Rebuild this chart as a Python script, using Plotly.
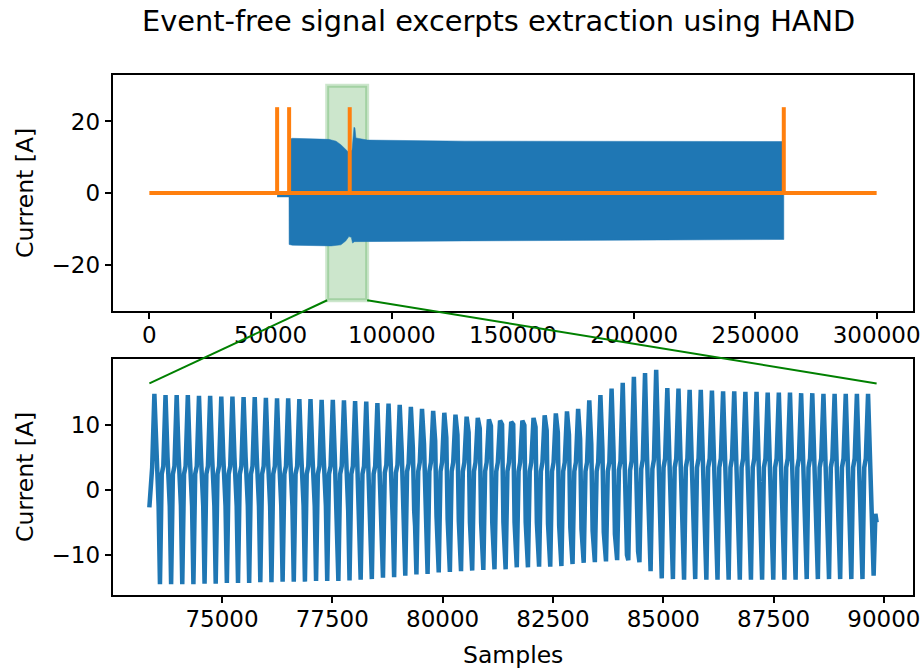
import plotly.graph_objects as go

# ------------------------------------------------------------------ data
TOP_X_END = 300000                      # last sample of the recording
EVENT_SAMPLES = [52700, 57650, 82650, 261700]   # HAND detected events
EVENT_HEIGHT = 24

# envelope of the (very dense) current signal in the full view
ENV_UPPER_X = [52700, 57600, 57650, 59000, 74000, 77000, 79000, 80800, 82200,
               83600, 84000, 84400, 84800, 85200, 90000, 130000, 261700]
ENV_UPPER = [0.0, 0.0, 15.0, 15.3, 15.0, 14.5, 13.5, 12.2, 11.4,
             12.0, 16.0, 18.4, 18.2, 15.4, 14.8, 14.5, 14.4]
ENV_LOWER_X = [52700, 57600, 57650, 59000, 75000, 79000, 81000, 82300, 83300,
               83800, 84600, 90000, 130000, 261700]
ENV_LOWER = [-1.1, -1.1, -14.4, -14.6, -14.8, -14.5, -13.4, -12.2, -12.4,
             -14.0, -13.6, -13.6, -13.4, -13.0]

# excerpt shown in the zoom
EXCERPT_START = 73355
EXCERPT_END = 89835
RECT_Y = [-30, 30]
CONNECT_Y = 16.3
FIRST_PEAK = 73468
PERIOD = 252.7

HEAD_PHASES = [-0.45, -0.2]
HEAD_VALS = [-2.7, 3.4]
CYCLE_PHASES = [0.0, 0.18, 0.3, 0.38, 0.5, 0.66, 0.8]
TAIL_PHASES = [0.66, 0.77]
TAIL_VALS = [-3.7, -5.0]

PEAK_VALS = [14.7, 14.5, 14.5, 14.5, 14.4, 14.4, 14.3, 14.3, 14.2, 14.2, 14.1, 14.0, 14.0,
             13.9, 13.9, 13.8, 13.8, 13.7, 13.6, 13.5, 13.3, 13.2, 13.0, 12.7, 12.4, 12.1,
             11.8, 11.5, 11.2, 11.0, 10.8, 10.6, 10.4, 10.6, 11.0, 11.4, 11.7, 12.0, 12.4,
             13.7, 14.5, 15.5, 16.4, 17.3, 17.9, 18.4, 15.6, 15.5, 15.3, 15.3, 15.2, 15.1,
             15.1, 15.0, 15.0, 14.9, 14.9, 14.9, 14.8, 14.8, 14.7, 14.7, 14.7, 14.7, 14.7]
HI_VALS = [5.0, 5.0, 5.0, 5.0, 5.0, 5.0, 5.0, 5.0, 5.0, 5.0, 5.0, 5.0, 5.0,
           5.0, 5.0, 5.0, 5.0, 5.0, 5.0, 5.0, 5.2, 5.5, 5.9, 6.4, 7.0, 7.5,
           8.0, 8.4, 8.8, 9.4, 9.8, 10.0, 10.0, 9.9, 9.6, 9.1, 8.8, 8.4, 7.8,
           7.0, 6.2, 5.6, 5.2, 5.0, 5.0, 4.5, 4.5, 4.5, 4.5, 4.5, 4.5, 4.5,
           4.5, 4.5, 4.5, 4.5, 4.5, 4.5, 4.5, 4.5, 4.5, 4.5, 4.5, 4.5, 4.5]
LO_A_VALS = [-1.0, -1.0, -1.0, -1.0, -1.0, -1.0, -1.0, -1.0, -1.0, -1.0, -1.0, -1.0, -1.0,
             -1.0, -1.0, -1.0, -1.2, -1.5, -1.8, -2.1, -2.4, -2.7, -3.0, -3.3, -3.6, -4.0,
             -4.5, -4.8, -5.0, -5.0, -5.0, -5.0, -5.0, -5.0, -5.0, -5.2, -5.5, -5.8, -6.0,
             -6.3, -6.5, -6.8, -7.0, -6.5, -4.5, -4.0, -3.8, -3.8, -3.8, -3.8, -3.8, -3.8,
             -3.8, -3.8, -3.8, -3.8, -3.8, -3.8, -3.8, -3.8, -3.8, -3.8, -3.8, -3.8, -3.8]
LO_B_VALS = [-2.5, -2.5, -2.5, -2.5, -2.5, -2.5, -2.5, -2.5, -2.5, -2.5, -2.5, -2.5, -2.5,
             -2.5, -2.5, -2.5, -2.8, -3.2, -3.6, -4.0, -4.4, -4.8, -5.2, -5.6, -6.0, -6.4,
             -7.0, -7.4, -7.8, -8.0, -8.2, -8.4, -8.5, -8.6, -8.8, -9.0, -9.2, -9.4, -9.6,
             -9.8, -10.0, -10.0, -10.0, -9.5, -7.5, -6.8, -6.6, -6.6, -6.6, -6.6, -6.6, -6.6,
             -6.6, -6.6, -6.6, -6.6, -6.6, -6.6, -6.6, -6.6, -6.6, -6.6, -6.6, -6.6, -6.6]
MIN_VALS = [-14.5, -14.5, -14.5, -14.5, -14.4, -14.4, -14.3, -14.3, -14.3, -14.2, -14.2, -14.1, -14.1,
            -14.1, -14.0, -14.0, -14.0, -13.9, -13.8, -13.7, -13.5, -13.4, -13.2, -13.0, -12.9, -12.7,
            -12.6, -12.5, -12.4, -12.3, -12.2, -12.2, -11.9, -11.9, -11.8, -11.8, -11.7, -11.4, -11.2,
            -11.1, -11.0, -10.8, -10.8, -11.1, -12.5, -13.6, -13.7, -13.8, -13.7, -13.8, -13.8, -13.8,
            -13.8, -13.8, -13.8, -13.8, -13.8, -13.8, -13.7, -13.7, -13.7, -13.7, -13.7, -13.7, -13.2]
RISE_A_VALS = [2.4, 2.4, 2.4, 2.4, 2.4, 2.4, 2.4, 2.4, 2.4, 2.4, 2.4, 2.4, 2.4,
               2.4, 2.4, 2.4, 2.4, 2.4, 2.4, 2.4, 2.6, 2.6, 2.8, 2.8, 2.8, 2.8,
               2.8, 2.8, 2.8, 2.8, 2.8, 2.8, 2.8, 2.8, 2.8, 2.8, 2.8, 2.8, 2.8,
               2.8, 2.8, 3.0, 3.0, 3.2, 3.2, 3.4, 3.4, 3.4, 3.4, 3.4, 3.4, 3.4,
               3.4, 3.4, 3.4, 3.4, 3.4, 3.4, 3.4, 3.4, 3.4, 3.4, 3.4, 3.4, 3.4]
RISE_B_VALS = [3.6, 3.6, 3.6, 3.6, 3.6, 3.6, 3.6, 3.6, 3.6, 3.6, 3.6, 3.6, 3.6,
               3.6, 3.6, 3.6, 3.6, 3.6, 3.6, 3.6, 3.8, 3.8, 4.0, 4.2, 4.2, 4.2,
               4.2, 4.2, 4.2, 4.2, 4.2, 4.2, 4.2, 4.2, 4.2, 4.2, 4.2, 4.2, 4.2,
               4.2, 4.2, 4.4, 4.4, 4.6, 4.6, 4.8, 4.8, 4.8, 4.8, 4.8, 4.8, 4.8,
               4.8, 4.8, 4.8, 4.8, 4.8, 4.8, 4.8, 4.8, 4.8, 4.8, 4.8, 4.8, 4.8]

TOP_XTICKS = [0, 50000, 100000, 150000, 200000, 250000, 300000]
TOP_YTICKS = [-20, 0, 20]
BOT_XTICKS = [75000, 77500, 80000, 82500, 85000, 87500, 90000]
BOT_YTICKS = [-10, 0, 10]

# ------------------------------------------------------------------ layout constants
W, H = 924, 670
X_DOM = [113 / W, 913 / W]
Y1_DOM = [1 - 311 / H, 1 - 75 / H]
Y2_DOM = [1 - 595 / H, 1 - 359 / H]
TOP_XR = [-0.05 * TOP_X_END, 1.05 * TOP_X_END]
TOP_YR = [RECT_Y[0] * 1.1, RECT_Y[1] * 1.1]
BLUE, ORANGE, GREEN = "#1f77b4", "#ff7f0e", "green"
FONT = "DejaVu Sans"

# ------------------------------------------------------------------ build series
wave_x, wave_y = [], []
for ph, v in zip(HEAD_PHASES, HEAD_VALS):
    wave_x.append(FIRST_PEAK + ph * PERIOD)
    wave_y.append(v)
n = len(PEAK_VALS)
for k in range(n):
    base = FIRST_PEAK + k * PERIOD
    vals = [PEAK_VALS[k], HI_VALS[k], LO_A_VALS[k], LO_B_VALS[k], MIN_VALS[k],
            RISE_A_VALS[k], RISE_B_VALS[k]]
    count = len(vals) if k < n - 1 else 5
    for ph, v in list(zip(CYCLE_PHASES, vals))[:count]:
        wave_x.append(base + ph * PERIOD)
        wave_y.append(v)
last = FIRST_PEAK + (n - 1) * PERIOD
for ph, v in zip(TAIL_PHASES, TAIL_VALS):
    wave_x.append(last + ph * PERIOD)
    wave_y.append(v)

bot_xr_pad = 0.05 * (max(wave_x) - min(wave_x))
BOT_XR = [min(wave_x) - bot_xr_pad, max(wave_x) + bot_xr_pad]
bot_ypad = 0.05 * (max(wave_y) - min(wave_y))
BOT_YR = [min(wave_y) - bot_ypad, max(wave_y) + bot_ypad]

env_x = ENV_UPPER_X + ENV_LOWER_X[::-1]
env_y = ENV_UPPER + ENV_LOWER[::-1]

ev_x = [0, TOP_X_END, None]
ev_y = [0, 0, None]
for s in EVENT_SAMPLES:
    ev_x += [s, s, None]
    ev_y += [0, EVENT_HEIGHT, None]

fig = go.Figure()
fig.add_trace(go.Scatter(x=env_x, y=env_y, fill="toself", fillcolor=BLUE, mode="lines",
                         line=dict(color=BLUE, width=0.5), xaxis="x", yaxis="y",
                         hoverinfo="skip", showlegend=False))
fig.add_trace(go.Scatter(x=ev_x, y=ev_y, mode="lines", line=dict(color=ORANGE, width=4),
                         xaxis="x", yaxis="y", showlegend=False))
fig.add_trace(go.Scatter(x=wave_x, y=wave_y, mode="lines", line=dict(color=BLUE, width=4.5),
                         xaxis="x2", yaxis="y2", showlegend=False))


def px(v, rng, dom):
    return dom[0] + (v - rng[0]) / (rng[1] - rng[0]) * (dom[1] - dom[0])


shapes = [dict(type="rect", xref="x", yref="y", x0=EXCERPT_START, x1=EXCERPT_END,
               y0=RECT_Y[0], y1=RECT_Y[1], fillcolor="rgba(0,128,0,0.2)",
               line=dict(color="rgba(0,128,0,0.2)", width=4), layer="below")]
for xv in (EXCERPT_START, EXCERPT_END):
    shapes.append(dict(type="line", xref="paper", yref="paper",
                       x0=px(xv, TOP_XR, X_DOM), y0=px(RECT_Y[0], TOP_YR, Y1_DOM),
                       x1=px(xv, BOT_XR, X_DOM), y1=px(CONNECT_Y, BOT_YR, Y2_DOM),
                       line=dict(color=GREEN, width=2), layer="above"))

axis_common = dict(showline=True, linecolor="black", linewidth=1.5, mirror=True,
                   ticks="outside", ticklen=6.5, tickwidth=1.5, tickcolor="black",
                   showgrid=False, zeroline=False, automargin=False,
                   tickfont=dict(family=FONT, size=23, color="black"))

fig.update_layout(
    width=W, height=H, autosize=False,
    margin=dict(l=0, r=0, t=0, b=0, pad=0, autoexpand=False),
    showlegend=False,
    paper_bgcolor="white", plot_bgcolor="rgba(0,0,0,0)",
    xaxis=dict(domain=X_DOM, range=TOP_XR, tickvals=TOP_XTICKS, tickformat="d",
               anchor="y", ticklabelstandoff=-4, **axis_common),
    yaxis=dict(domain=Y1_DOM, range=TOP_YR, tickvals=TOP_YTICKS, anchor="x", **axis_common),
    xaxis2=dict(domain=X_DOM, range=BOT_XR, tickvals=BOT_XTICKS, tickformat="d",
                anchor="y2", ticklabelstandoff=-4, **axis_common),
    yaxis2=dict(domain=Y2_DOM, range=BOT_YR, tickvals=BOT_YTICKS, anchor="x2", **axis_common),
    shapes=shapes,
    annotations=[
        dict(text="Event-free signal excerpts extraction using HAND", x=499 / W, y=1 - 21 / H,
             xref="paper", yref="paper", xanchor="center", yanchor="middle", showarrow=False,
             font=dict(family=FONT, size=28.8, color="black")),
        dict(text="Current [A]", x=25 / W, y=1 - 193 / H, xref="paper", yref="paper",
             textangle=-90, xanchor="center", yanchor="middle", showarrow=False,
             font=dict(family=FONT, size=23.5, color="black")),
        dict(text="Current [A]", x=25 / W, y=1 - 477 / H, xref="paper", yref="paper",
             textangle=-90, xanchor="center", yanchor="middle", showarrow=False,
             font=dict(family=FONT, size=23.5, color="black")),
        dict(text="Samples", x=513 / W, y=1 - 655 / H, xref="paper", yref="paper",
             xanchor="center", yanchor="middle", showarrow=False,
             font=dict(family=FONT, size=23.5, color="black")),
    ],
)

fig.write_html("out.html", config={"responsive": False})
